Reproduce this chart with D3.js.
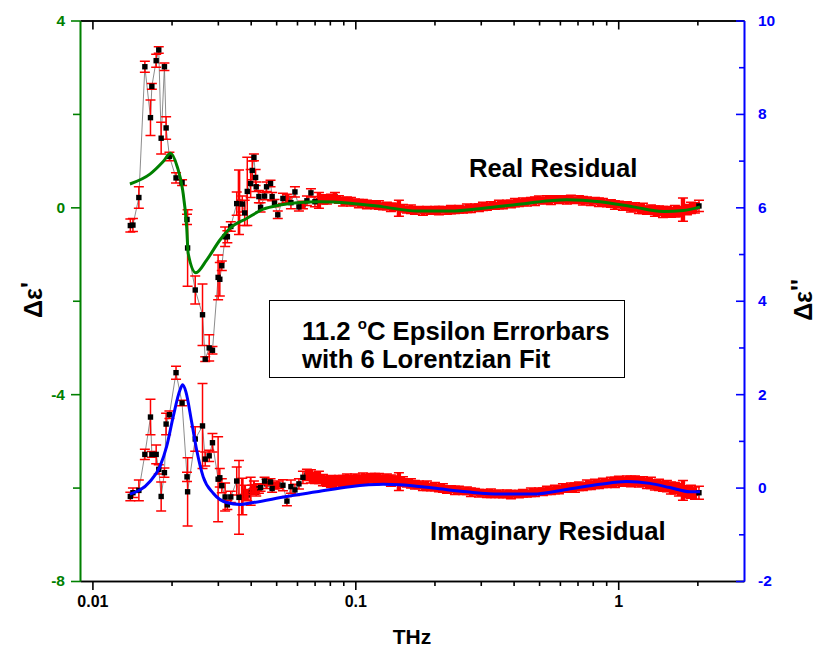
<!DOCTYPE html>
<html><head><meta charset="utf-8">
<script src="https://cdn.jsdelivr.net/npm/d3@7"></script>
<style>
body{margin:0;background:#fff}
svg{display:block}
text{font-family:"Liberation Sans",Arial,Helvetica,sans-serif;font-weight:bold}
</style>
</head><body>
<svg id="c" width="817" height="652"></svg>
<script>
// ---------- DATA ----------
// frequencies (THz), sparse low-frequency part
const freqLow = [
 0.01394,0.01426,0.01502,0.01583,0.01663,0.01683,0.01748,0.01788,0.01826,0.01879,
 0.01907,0.01963,0.0208,0.02193,0.0229,0.02302,0.02461,0.02623,0.02686,0.02781,
 0.02862,0.03007,0.03052,0.03106,0.03197,0.03261,0.0336,0.03539,0.03611,0.03716,
 0.03795,0.03882,0.03999,0.04055,0.04115,0.04176,0.04198,0.04298,0.04362,0.04517,
 0.04596,0.04759,0.04826,0.04928,0.05071];
// frequencies (THz), dense part
const freqDense = [
 0.05305,0.05494,0.05690,0.05893,0.06103,0.06321,0.06546,0.06780,0.07021,0.07272,
 0.07531,0.07800,0.08078,0.08366,0.08664,0.08973,0.09293,0.09625,0.09968,0.1032,
 0.1069,0.1107,0.1147,0.1188,0.1230,0.1274,0.1319,0.1366,0.1415,0.1465,
 0.1518,0.1572,0.1628,0.1686,0.1746,0.1808,0.1873,0.1939,0.2009,0.2080,
 0.2154,0.2231,0.2311,0.2393,0.2478,0.2567,0.2658,0.2753,0.2851,0.2953,
 0.3058,0.3167,0.3280,0.3397,0.3518,0.3643,0.3773,0.3908,0.4047,0.4191,
 0.4341,0.4495,0.4656,0.4822,0.4994,0.5172,0.5356,0.5547,0.5745,0.5950,
 0.6162,0.6381,0.6609,0.6845,0.7089,0.7341,0.7603,0.7874,0.8155,0.8446,
 0.8747,0.9059,0.9382,0.9716,1.006,1.042,1.079,1.118,1.158,1.199,
 1.242,1.286,1.332,1.379,1.429,1.480,1.532,1.587,1.643,1.702,
 1.763,1.826,1.891,1.958,2.028];

// real residual (left axis)
const realLow = [
 -0.39,-0.38,0.21,3.01,1.92,2.59,3.14,3.37,1.48,3.01,
 1.70,1.09,0.63,0.53,-0.26,-0.87,-1.77,-2.30,-3.25,-3.01,
 -3.06,-1.50,-1.54,-1.25,-0.63,-0.63,-0.41,0.08,0.11,0.07,
 -0.12,0.34,0.51,0.79,1.07,0.64,0.44,0.23,0.00,0.24,
 0.44,0.51,0.23,0.09,-0.16];
const realErrLow = [
 0.14,0.14,0.23,0.12,0.38,0.06,0.14,0.07,0.34,0.08,
 0.24,0.09,0.11,0.06,0.11,0.82,0.30,0.66,0.05,0.28,
 0.08,0.48,0.36,0.10,0.21,0.13,0.10,0.25,0.69,0.17,
 0.27,0.73,0.30,0.20,0.07,0.17,0.10,0.13,0.10,0.08,
 0.10,0.07,0.09,0.08,0.08];
const realDense = [
 0.19,0.19,0.10,0.33,0.01,0.05,0.14,0.31,0.12,0.15,
 0.17,0.16,0.20,0.23,0.17,0.12,0.14,0.12,0.11,0.08,
 0.09,0.06,0.07,0.05,0.05,0.02,0.03,0.00,0.01,-0.02,
 -0.02,-0.05,-0.04,-0.07,-0.05,-0.08,-0.06,-0.08,-0.06,-0.07,
 -0.05,-0.07,-0.05,-0.06,-0.04,-0.05,-0.02,-0.03,0.00,-0.01,
 0.02,0.01,0.04,0.03,0.06,0.05,0.08,0.07,0.10,0.09,
 0.12,0.11,0.14,0.13,0.16,0.14,0.17,0.15,0.18,0.16,
 0.18,0.16,0.18,0.15,0.17,0.14,0.15,0.12,0.14,0.11,
 0.11,0.08,0.08,0.05,0.06,0.02,0.03,0.00,0.01,-0.03,
 -0.02,-0.06,-0.05,-0.08,-0.07,-0.10,-0.09,-0.11,-0.08,-0.09,
 -0.05,-0.05,-0.01,-0.01,0.03];
const realErrDense = [
 0.11,0.09,0.13,0.11,0.09,0.08,0.10,0.09,0.11,0.17,
 0.10,0.09,0.08,0.09,0.08,0.09,0.08,0.09,0.07,0.09,
 0.08,0.09,0.07,0.08,0.09,0.07,0.08,0.09,0.08,0.17,
 0.08,0.07,0.09,0.08,0.07,0.09,0.08,0.07,0.08,0.09,
 0.07,0.08,0.09,0.07,0.08,0.07,0.09,0.08,0.07,0.08,
 0.09,0.07,0.08,0.07,0.09,0.08,0.07,0.08,0.09,0.07,
 0.08,0.08,0.07,0.09,0.08,0.07,0.08,0.09,0.07,0.08,
 0.07,0.09,0.08,0.07,0.08,0.09,0.07,0.08,0.07,0.09,
 0.08,0.07,0.08,0.09,0.07,0.08,0.09,0.10,0.09,0.10,
 0.11,0.09,0.10,0.11,0.10,0.12,0.11,0.10,0.12,0.11,
 0.25,0.11,0.12,0.11,0.12];

// imaginary residual (right axis)
const imagLow = [
 -0.19,-0.11,-0.06,0.71,1.51,0.71,0.71,0.39,-0.19,0.32,
 1.36,1.56,2.46,1.81,0.23,-0.09,1.04,1.32,0.61,0.68,
 0.96,0.18,0.21,0.04,-0.20,-0.37,-0.20,0.14,-0.21,-0.19,
 -0.10,-0.16,-0.08,-0.05,0.02,-0.04,-0.10,-0.02,0.00,0.14,
 0.08,0.12,-0.02,0.04,0.06];
const imagErrLow = [
 0.09,0.10,0.22,0.11,0.38,0.06,0.20,0.10,0.31,0.10,
 0.23,0.08,0.14,0.06,0.10,0.73,0.26,0.91,0.15,0.12,
 0.20,0.91,0.20,0.15,0.30,0.10,0.12,0.30,0.79,0.39,
 0.15,0.12,0.30,0.10,0.12,0.10,0.08,0.10,0.08,0.08,
 0.10,0.07,0.08,0.07,0.08];
const imagDense = [
 0.05,-0.29,0.02,-0.05,0.08,0.22,0.27,0.24,0.21,0.22,
 0.16,0.14,0.13,0.12,0.15,0.14,0.16,0.15,0.17,0.16,
 0.19,0.17,0.20,0.18,0.19,0.17,0.18,0.15,0.15,0.13,
 0.13,0.10,0.09,0.06,0.06,0.03,0.04,0.01,0.02,-0.01,
 -0.01,-0.04,-0.03,-0.06,-0.05,-0.08,-0.07,-0.10,-0.09,-0.12,
 -0.11,-0.13,-0.12,-0.14,-0.13,-0.15,-0.13,-0.15,-0.13,-0.14,
 -0.12,-0.13,-0.10,-0.11,-0.08,-0.09,-0.06,-0.07,-0.04,-0.05,
 -0.01,-0.02,0.01,0.00,0.03,0.02,0.06,0.05,0.08,0.07,
 0.10,0.09,0.12,0.11,0.14,0.12,0.15,0.13,0.15,0.12,
 0.13,0.09,0.10,0.06,0.06,0.03,0.03,-0.01,-0.01,-0.05,
 -0.06,-0.09,-0.09,-0.12,-0.11];
const imagErrDense = [
 0.12,0.10,0.14,0.12,0.11,0.13,0.12,0.14,0.12,0.13,
 0.12,0.11,0.13,0.12,0.11,0.12,0.13,0.11,0.12,0.11,
 0.12,0.11,0.10,0.12,0.11,0.10,0.11,0.12,0.10,0.19,
 0.10,0.09,0.10,0.09,0.08,0.09,0.10,0.08,0.09,0.08,
 0.09,0.08,0.07,0.09,0.08,0.07,0.08,0.09,0.07,0.08,
 0.07,0.08,0.09,0.07,0.08,0.07,0.08,0.09,0.07,0.08,
 0.08,0.07,0.09,0.08,0.07,0.08,0.09,0.08,0.09,0.08,
 0.09,0.08,0.09,0.10,0.09,0.08,0.10,0.09,0.10,0.09,
 0.10,0.09,0.10,0.11,0.10,0.09,0.10,0.11,0.10,0.11,
 0.10,0.11,0.12,0.11,0.12,0.11,0.12,0.13,0.12,0.13,
 0.21,0.13,0.14,0.13,0.14];

// Lorentzian fit curves: [THz, value]
const realFit = [
 [0.01389,0.50],[0.01655,0.71],[0.01859,0.98],[0.01984,1.16],[0.02102,0.87],
 [0.02204,0.37],[0.02283,-0.42],[0.02314,-0.99],[0.02475,-1.40],[0.02719,-1.13],
 [0.03055,-0.70],[0.03334,-0.45],[0.03859,-0.24],[0.04464,-0.04],[0.05165,0.05],
 [0.05981,0.10],[0.07333,0.12],[0.09539,0.09],[0.1277,0.01],[0.1711,-0.08],
 [0.2291,-0.08],[0.3066,-0.02],[0.4108,0.06],[0.5499,0.14],[0.6365,0.16],
 [0.852,0.12],[1.141,0.01],[1.483,-0.09],[1.767,-0.07],[2.046,0.01]];
const imagFit = [
 [0.01389,-0.14],[0.01655,0.13],[0.01806,0.45],[0.01916,0.88],[0.02029,1.52],
 [0.02153,2.09],[0.02204,2.20],[0.02268,2.05],[0.02384,1.41],[0.02491,0.81],
 [0.02639,0.23],[0.02881,-0.12],[0.0324,-0.32],[0.0364,-0.36],[0.04089,-0.32],
 [0.05479,-0.19],[0.07123,-0.09],[0.09539,0.02],[0.1277,0.07],[0.1478,0.06],
 [0.1979,-0.01],[0.2651,-0.09],[0.3549,-0.14],[0.4751,-0.14],[0.6365,-0.04],
 [0.852,0.07],[1.0765,0.13],[1.32,0.09],[1.573,0.00],[1.874,-0.09],[2.046,-0.09]];

// axis ticks
const xMajor = [0.01,0.1,1];
const xMajorLabels = ["0.01","0.1","1"];
const xMinor = [0.02,0.03,0.04,0.05,0.06,0.07,0.08,0.09,0.2,0.3,0.4,0.5,0.6,0.7,0.8,0.9,2];
const yLMajor = [-8,-4,0,4];
const yLMinor = [-6,-2,2];
const yRMajor = [-2,0,2,4,6,8,10];
const yRMinor = [-1,1,3,5,7,9];

// ---------- LAYOUT ----------
const W=817,H=652, L=80,R=744,T=20.5,B=581;
const GREEN="#008000", BLUE="#0000ff", RED="#ff0000";
const x = d3.scaleLog().domain([0.00897,3.009]).range([L,R]);
const yL = d3.scaleLinear().domain([-8,4]).range([B,T]);
const yR = d3.scaleLinear().domain([-2,10]).range([B,T]);

const svg = d3.select("#c");
svg.append("rect").attr("width",W).attr("height",H).attr("fill","#fff");

const freq = freqLow.concat(freqDense);
const realVals = realLow.concat(realDense), realErrs = realErrLow.concat(realErrDense);
const imagVals = imagLow.concat(imagDense), imagErrs = imagErrLow.concat(imagErrDense);

function drawSeries(vals, errs, yS){
  const g = svg.append("g");
  const n = Math.min(freq.length, vals.length, errs.length);
  const pts = [];
  for(let i=0;i<n;i++){
    pts.push({px:x(freq[i]), py:yS(vals[i]), top:yS(vals[i]+errs[i]), bot:yS(vals[i]-errs[i])});
  }
  g.append("path").attr("d", d3.line().x(d=>d.px).y(d=>d.py)(pts))
    .attr("fill","none").attr("stroke","#6e6e6e").attr("stroke-width",0.8);
  // points crowded on both sides: the measured data are far denser there,
  // so their overlapping error bars merge into a solid band that buries the symbols
  pts.forEach((p,i)=>{
    let far = 0, dx = Infinity;
    [i-1,i+1].forEach(j=>{
      if(j>=0 && j<pts.length){
        far = Math.max(far, Math.hypot(pts[j].px-p.px, pts[j].py-p.py));
        dx = Math.min(dx, Math.abs(pts[j].px-p.px));
      } else far = Infinity;
    });
    p.covered = far < 6;
    p.gap = dx;
  });
  const ms = 5.4;
  const mark = p => g.append("rect").attr("x",p.px-ms/2).attr("y",p.py-ms/2)
      .attr("width",ms).attr("height",ms).attr("fill","#000");
  pts.filter(p=>p.covered).forEach(mark);
  const cw = 5;
  pts.forEach(p=>{
    const path = `M${p.px-cw},${p.top}H${p.px+cw}M${p.px-cw},${p.bot}H${p.px+cw}`;
    g.append("path").attr("d",path).attr("stroke",RED).attr("stroke-width",1.5).attr("fill","none");
    const bw = p.covered ? Math.max(1.5, Math.min(4.4, p.gap+0.4)) : 1.5;
    g.append("line").attr("x1",p.px).attr("x2",p.px).attr("y1",p.top).attr("y2",p.bot)
      .attr("stroke",RED).attr("stroke-width",bw);
  });
  pts.filter(p=>!p.covered).forEach(mark);
}
drawSeries(realVals, realErrs, yL);
drawSeries(imagVals, imagErrs, yR);

// fits
svg.append("path").datum(realFit)
  .attr("d", d3.line().curve(d3.curveMonotoneX).x(d=>x(d[0])).y(d=>yL(d[1])))
  .attr("fill","none").attr("stroke",GREEN).attr("stroke-width",3);
svg.append("path").datum(imagFit)
  .attr("d", d3.line().curve(d3.curveMonotoneX).x(d=>x(d[0])).y(d=>yR(d[1])))
  .attr("fill","none").attr("stroke",BLUE).attr("stroke-width",3);

// ---------- AXES ----------
function styleAxis(g, color, fs){
  g.attr("font-family","Liberation Sans, Arial, sans-serif").attr("font-weight","bold");
  g.select(".domain").attr("stroke",color).attr("stroke-width",1.6);
  g.selectAll(".tick line").attr("stroke",color).attr("stroke-width",1.6);
  g.selectAll(".tick text").attr("fill",color).attr("font-size",fs);
}
const plain = d => String(d);
// bottom
let g = svg.append("g").attr("transform",`translate(0,${B})`)
  .call(d3.axisBottom(x).tickValues(xMajor).tickSize(9).tickSizeOuter(0).tickPadding(6)
        .tickFormat((d,i)=>xMajorLabels[i]));
styleAxis(g,"#000","16px");
g = svg.append("g").attr("transform",`translate(0,${B})`)
  .call(d3.axisBottom(x).tickValues(xMinor).tickSize(5).tickSizeOuter(0).tickFormat(""));
styleAxis(g,"#000","16px");
// top
g = svg.append("g").attr("transform",`translate(0,${T})`)
  .call(d3.axisTop(x).tickValues(xMajor).tickSize(-9).tickSizeOuter(0).tickFormat(""));
styleAxis(g,"#000","16px");
g = svg.append("g").attr("transform",`translate(0,${T})`)
  .call(d3.axisTop(x).tickValues(xMinor).tickSize(-5).tickSizeOuter(0).tickFormat(""));
styleAxis(g,"#000","16px");
// left
g = svg.append("g").attr("transform",`translate(${L},0)`)
  .call(d3.axisLeft(yL).tickValues(yLMajor).tickSize(9).tickSizeOuter(0).tickPadding(6)
        .tickFormat(plain));
styleAxis(g,GREEN,"15.5px");
g = svg.append("g").attr("transform",`translate(${L},0)`)
  .call(d3.axisLeft(yL).tickValues(yLMinor).tickSize(7).tickSizeOuter(0).tickFormat(""));
styleAxis(g,GREEN,"15.5px");
// right
g = svg.append("g").attr("transform",`translate(${R},0)`)
  .call(d3.axisRight(yR).tickValues(yRMajor).tickSize(-8).tickSizeOuter(0).tickPadding(14)
        .tickFormat(plain));
styleAxis(g,BLUE,"15.5px");
g = svg.append("g").attr("transform",`translate(${R},0)`)
  .call(d3.axisRight(yR).tickValues(yRMinor).tickSize(-5).tickSizeOuter(0).tickFormat(""));
styleAxis(g,BLUE,"15.5px");

// ---------- TEXT ----------
svg.append("text").attr("x",(L+R)/2).attr("y",644).attr("text-anchor","middle")
  .attr("font-size",21).text("THz");
const lt = svg.append("text").attr("transform","translate(42,300) rotate(-90)")
  .attr("text-anchor","middle").attr("font-size",25);
lt.append("tspan").text("\u0394\u03b5");
lt.append("tspan").attr("dy",-3).text("'");
const rt = svg.append("text").attr("transform","translate(812,300) rotate(-90)")
  .attr("text-anchor","middle").attr("font-size",25);
rt.append("tspan").text("\u0394\u03b5");
rt.append("tspan").attr("dy",-3).text("''");

svg.append("text").attr("x",469).attr("y",177).attr("font-size",25.7).text("Real Residual");
svg.append("text").attr("x",430).attr("y",540).attr("font-size",25.7).text("Imaginary Residual");

svg.append("rect").attr("x",269.5).attr("y",300.5).attr("width",355).attr("height",77)
  .attr("fill","#fff").attr("stroke","#000").attr("stroke-width",1);
const t1 = svg.append("text").attr("x",302).attr("y",340).attr("font-size",25.7);
t1.append("tspan").text("11.2 ");
t1.append("tspan").attr("font-size",15).attr("dy",-11).text("o");
t1.append("tspan").attr("dy",11).text("C Epsilon Errorbars");
svg.append("text").attr("x",302).attr("y",367.5).attr("font-size",25.7).text("with 6 Lorentzian Fit");
</script>
</body></html>
